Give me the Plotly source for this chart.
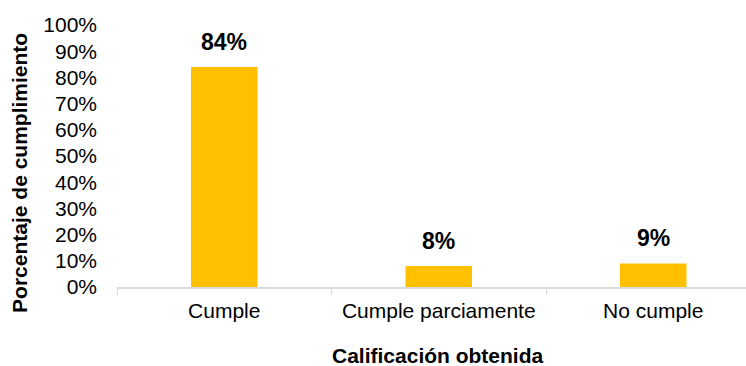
import plotly.graph_objects as go

categories = ["Cumple", "Cumple parciamente", "No cumple"]
values = [0.84, 0.08, 0.09]
labels = ["84%", "8%", "9%"]
y_ticks = [i / 10 for i in range(11)]
y_tick_text = [f"{i*10}%" for i in range(11)]

FONT = "Liberation Sans, Arial, sans-serif"
BAR = "#FFC000"

fig = go.Figure()
fig.add_trace(go.Bar(x=categories, y=values, marker_color=BAR, width=0.31,
                     marker_line_width=0, hoverinfo="skip"))

for c, v, t in zip(categories, values, labels):
    fig.add_annotation(x=c, y=v, text=f"<b>{t}</b>", showarrow=False,
                       yanchor="middle", yshift=25,
                       font=dict(family=FONT, size=23, color="black"))

fig.add_annotation(xref="paper", yref="paper", x=-0.156, y=0.435,
                   text="<b>Porcentaje de cumplimiento</b>", showarrow=False,
                   textangle=-90, xanchor="center", yanchor="middle",
                   font=dict(family=FONT, size=21, color="black"))
fig.add_annotation(xref="paper", yref="paper", x=0.51, y=-0.26,
                   text="<b>Calificación obtenida</b>", showarrow=False,
                   xanchor="center", yanchor="middle",
                   font=dict(family=FONT, size=21, color="black"))

fig.update_layout(
    width=746, height=366,
    margin=dict(l=117, r=0, t=25, b=79),
    plot_bgcolor="white", paper_bgcolor="white",
    showlegend=False,
    font=dict(family=FONT, size=21, color="black"),
    xaxis=dict(range=[-0.5, -0.5 + (746 - 117) / 214.5], showline=True,
               linecolor="#D9D9D9", linewidth=1.5, ticks="outside",
               tickson="boundaries", ticklen=6, tickcolor="#D9D9D9",
               showgrid=False, tickfont=dict(size=21), ticklabelstandoff=4),
    yaxis=dict(range=[0, 1], tickvals=y_ticks, ticktext=y_tick_text,
               showgrid=False, zeroline=False, showline=False,
               tickfont=dict(size=21), ticklabelstandoff=19),
)

fig.write_html("out.html")
